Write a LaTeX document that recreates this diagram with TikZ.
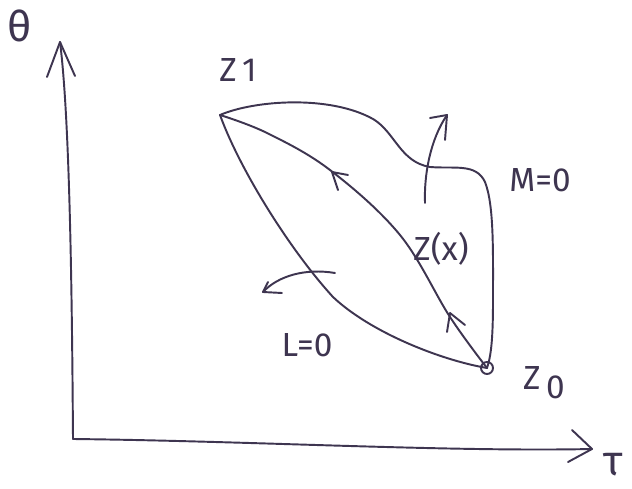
\documentclass[tikz,border=0pt]{standalone}
\usepackage{fontspec}
\setmainfont{Fira Sans}
\definecolor{ink}{HTML}{3E3550}
\begin{document}
\begin{tikzpicture}[x=0.02cm,y=-0.02cm,
  pen/.style={draw=ink,line width=1.1pt,line cap=round,line join=round},
  lbl/.style={text=ink,font=\fontsize{19}{22}\selectfont,inner sep=0pt}]
\useasboundingbox[fill=white] (0,0) rectangle (632,489);
% points
\coordinate (z1) at (220,115);
\coordinate (z0) at (487,368);
\coordinate (o) at (73,439);
\coordinate (ytip) at (60,42);
\coordinate (xtip) at (592,449);
% axes
\draw[pen] (o) .. controls (72,300) and (70,120) .. (ytip);
\draw[pen] (47,77) -- (ytip) -- (75,76);
\draw[pen] (o) .. controls (250,441) and (450,452) .. (xtip);
\draw[pen] (572,430) -- (xtip) -- (568,462);
% upper curve (M=0)
\draw[pen] (z1) .. controls (255,100) and (330,95) .. (373,119)
  .. controls (395,132) and (400,162) .. (430,167)
  .. controls (455,169) and (476,163) .. (485,182)
  .. controls (494,205) and (493,250) .. (493,300)
  .. controls (493,340) and (491,356) .. (z0);
% middle curve Z(x)
\draw[pen] plot[smooth,tension=0.6] coordinates {(z1) (267,133) (330,170) (400,235) (450,317) (z0)};
% lower curve (L=0)
\draw[pen] (z1) .. controls (240,170) and (290,250) .. (333,297)
  .. controls (370,332) and (440,360) .. (z0);
% loop at z0
\draw[pen] (z0) circle (6);
% chevrons on middle curve
\draw[pen] (348,175) -- (332,172) -- (338,190);
\draw[pen] (465,325) -- (450,313) -- (447,332);
% arrow across lower curve
\coordinate (la0) at (335,273);
\coordinate (la1) at (263,292);
\draw[pen] (la0) .. controls (305,268) and (278,276) .. (la1);
\draw[pen] (268,282) -- (la1) -- (282,293);
% arrow across upper curve
\coordinate (ua0) at (425,203);
\coordinate (ua1) at (447,115);
\draw[pen] (ua0) .. controls (424,175) and (430,140) .. (ua1);
\draw[pen] (430,118) -- (ua1) -- (445,140);
% labels
\node[lbl,font=\fontsize{24}{28}\selectfont] (lt) at (20,26) {θ};
\node[lbl,font=\fontsize{24}{28}\selectfont] (lta) at (613,465) {τ};
\node[lbl] (lz1) at (238,70) {Z\,1};
\node[lbl] (lz0) at (544,383) {Z\,\raisebox{-5pt}{0}};
\node[lbl] (lzx) at (441,249) {Z(x)};
\node[lbl] (lm) at (540,180) {M=0};
\node[lbl] (ll) at (307,345) {L=0};
\end{tikzpicture}
\end{document}
